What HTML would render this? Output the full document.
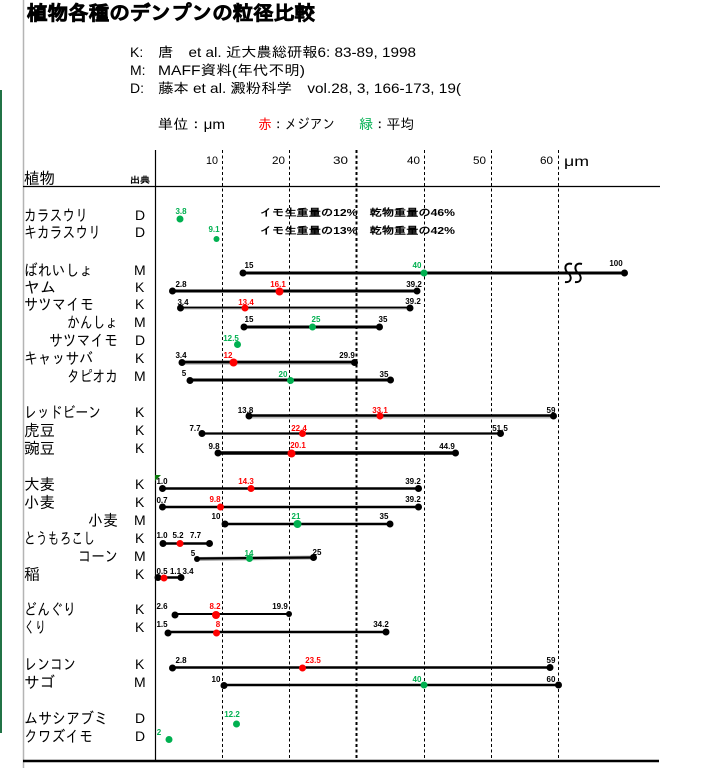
<!DOCTYPE html>
<html><head><meta charset="utf-8"><style>
html,body{margin:0;padding:0;background:#fff;}
svg{display:block;}
.jp{font-family:"Liberation Sans","IPAGothic","Noto Sans CJK JP",sans-serif;}
.lb{font-size:16px;fill:#000;}
.src{font-family:"Liberation Sans",sans-serif;font-size:14px;fill:#000;}
.v{font-family:"Liberation Sans",sans-serif;font-size:8px;font-weight:bold;text-anchor:middle;fill:#000;}
.r{fill:#ff0000;}
.g{fill:#00b050;}
.tick{font-family:"Liberation Sans",sans-serif;font-size:11px;fill:#000;}
</style></head><body>
<svg width="703" height="768" viewBox="0 0 703 768" xmlns="http://www.w3.org/2000/svg">
<rect width="703" height="768" fill="#fff"/>
<!-- left borders -->
<line x1="23.5" y1="0" x2="23.5" y2="768" stroke="#b4b4b4" stroke-width="1.5"/>
<rect x="0" y="90" width="2" height="643" fill="#217346"/>

<!-- title -->
<text class="jp" x="27" y="20" font-size="20" font-weight="bold" stroke="#000" stroke-width="0.7" textLength="288" lengthAdjust="spacingAndGlyphs">植物各種のデンプンの粒径比較</text>

<!-- references -->
<text class="jp" x="130" y="57" font-size="14">K:</text>
<text class="jp" x="158" y="57" font-size="14" textLength="258" lengthAdjust="spacingAndGlyphs">唐　et al. 近大農総研報6: 83-89, 1998</text>
<text class="jp" x="130" y="75" font-size="14">M:</text>
<text class="jp" x="158" y="75" font-size="14" textLength="147" lengthAdjust="spacingAndGlyphs">MAFF資料(年代不明)</text>
<text class="jp" x="130" y="93" font-size="14">D:</text>
<text class="jp" x="158" y="93" font-size="14" textLength="303" lengthAdjust="spacingAndGlyphs">藤本 et al. 澱粉科学　vol.28, 3, 166-173, 19(</text>

<text class="jp" x="158" y="129" font-size="14" textLength="67" lengthAdjust="spacingAndGlyphs">単位：μm</text>
<text class="jp" x="258" y="129" font-size="14" fill="#ff0000">赤</text>
<text class="jp" x="272" y="129" font-size="14" textLength="63" lengthAdjust="spacingAndGlyphs">：メジアン</text>
<text class="jp" x="359" y="129" font-size="14" fill="#00b050">緑</text>
<text class="jp" x="373" y="129" font-size="14" textLength="41" lengthAdjust="spacingAndGlyphs">：平均</text>

<!-- axis tick labels -->
<text class="tick" x="206" y="164" textLength="12" lengthAdjust="spacingAndGlyphs">10</text>
<text class="tick" x="272" y="164" textLength="13" lengthAdjust="spacingAndGlyphs">20</text>
<text class="tick" x="333" y="164" textLength="15" lengthAdjust="spacingAndGlyphs">30</text>
<text class="tick" x="407" y="164" textLength="13" lengthAdjust="spacingAndGlyphs">40</text>
<text class="tick" x="473" y="164" textLength="13" lengthAdjust="spacingAndGlyphs">50</text>
<text class="tick" x="540" y="164" textLength="13" lengthAdjust="spacingAndGlyphs">60</text>
<text class="jp" x="564" y="166" font-size="14" textLength="25" lengthAdjust="spacingAndGlyphs">μm</text>

<!-- header -->
<text class="jp lb" x="24" y="184" textLength="31" lengthAdjust="spacingAndGlyphs">植物</text>
<text class="jp" x="130" y="183" font-size="9" font-weight="bold" textLength="20" lengthAdjust="spacingAndGlyphs">出典</text>
<line x1="23" y1="186.5" x2="660" y2="186.5" stroke="#000" stroke-width="1.2"/>

<!-- grid -->
<g stroke="#000" stroke-width="1" stroke-dasharray="3,2.5">
<line x1="222.5" y1="150" x2="222.5" y2="761"/>
<line x1="289.5" y1="150" x2="289.5" y2="761"/>
<line x1="356.5" y1="150" x2="356.5" y2="761" stroke-width="2"/>
<line x1="424.5" y1="150" x2="424.5" y2="761"/>
<line x1="491.5" y1="150" x2="491.5" y2="761"/>
<line x1="558.5" y1="150" x2="558.5" y2="761"/>
</g>
<line x1="155.5" y1="150" x2="155.5" y2="761" stroke="#000" stroke-width="1.2"/>
<line x1="23" y1="761" x2="659" y2="761" stroke="#000" stroke-width="2.5"/>

<!-- row labels -->
<g class="jp lb">
<text x="24" y="221" textLength="64" lengthAdjust="spacingAndGlyphs">カラスウリ</text>
<text x="24" y="238" textLength="77" lengthAdjust="spacingAndGlyphs">キカラスウリ</text>
<text x="24" y="276" textLength="69" lengthAdjust="spacingAndGlyphs">ばれいしょ</text>
<text x="24" y="293" textLength="32" lengthAdjust="spacingAndGlyphs">ヤム</text>
<text x="24" y="310" textLength="70" lengthAdjust="spacingAndGlyphs">サツマイモ</text>
<text x="67" y="328" textLength="51" lengthAdjust="spacingAndGlyphs">かんしょ</text>
<text x="49" y="346" textLength="69" lengthAdjust="spacingAndGlyphs">サツマイモ</text>
<text x="24" y="364" textLength="69" lengthAdjust="spacingAndGlyphs">キャッサバ</text>
<text x="67" y="382" textLength="51" lengthAdjust="spacingAndGlyphs">タピオカ</text>
<text x="24" y="418" textLength="77" lengthAdjust="spacingAndGlyphs">レッドビーン</text>
<text x="24" y="436" textLength="31" lengthAdjust="spacingAndGlyphs">虎豆</text>
<text x="24" y="454" textLength="31" lengthAdjust="spacingAndGlyphs">豌豆</text>
<text x="24" y="490" textLength="31" lengthAdjust="spacingAndGlyphs">大麦</text>
<text x="24" y="508" textLength="31" lengthAdjust="spacingAndGlyphs">小麦</text>
<text x="88" y="526" textLength="30" lengthAdjust="spacingAndGlyphs">小麦</text>
<text x="24" y="544" textLength="71" lengthAdjust="spacingAndGlyphs">とうもろこし</text>
<text x="78" y="562" textLength="40" lengthAdjust="spacingAndGlyphs">コーン</text>
<text x="24" y="580" textLength="16" lengthAdjust="spacingAndGlyphs">稲</text>
<text x="24" y="615" textLength="52" lengthAdjust="spacingAndGlyphs">どんぐり</text>
<text x="24" y="633" textLength="22" lengthAdjust="spacingAndGlyphs">くり</text>
<text x="24" y="670" textLength="52" lengthAdjust="spacingAndGlyphs">レンコン</text>
<text x="24" y="688" textLength="31" lengthAdjust="spacingAndGlyphs">サゴ</text>
<text x="24" y="724" textLength="84" lengthAdjust="spacingAndGlyphs">ムサシアブミ</text>
<text x="24" y="742" textLength="69" lengthAdjust="spacingAndGlyphs">クワズイモ</text>
</g>
<!-- sources -->
<g class="src">
<text x="135" y="220">D</text>
<text x="135" y="237">D</text>
<text x="134" y="275">M</text>
<text x="135" y="292">K</text>
<text x="135" y="309">K</text>
<text x="134" y="327">M</text>
<text x="135" y="345">D</text>
<text x="135" y="363">K</text>
<text x="134" y="381">M</text>
<text x="135" y="417">K</text>
<text x="135" y="435">K</text>
<text x="135" y="453">K</text>
<text x="135" y="489">K</text>
<text x="135" y="507">K</text>
<text x="134" y="525">M</text>
<text x="135" y="543">K</text>
<text x="134" y="561">M</text>
<text x="135" y="579">K</text>
<text x="135" y="614">K</text>
<text x="135" y="632">K</text>
<text x="135" y="669">K</text>
<text x="134" y="687">M</text>
<text x="135" y="723">D</text>
<text x="135" y="741">D</text>
</g>

<!-- annotations -->
<text class="jp" x="260" y="216" font-size="10" font-weight="bold" textLength="195" lengthAdjust="spacingAndGlyphs">イモ生重量の12%　乾物重量の46%</text>
<text class="jp" x="260" y="234" font-size="10" font-weight="bold" textLength="195" lengthAdjust="spacingAndGlyphs">イモ生重量の13%　乾物重量の42%</text>

<!-- data lines -->
<g stroke="#000" fill="none">
<line x1="243" y1="273" x2="624" y2="273" stroke-width="3"/>
<line x1="172" y1="291" x2="417" y2="291" stroke-width="3"/>
<line x1="180" y1="308" x2="410" y2="308" stroke="#bbb" stroke-width="3"/>
<line x1="180" y1="307.5" x2="410" y2="307.5" stroke-width="1.8"/>
<line x1="244" y1="327" x2="379" y2="327" stroke-width="3"/>
<line x1="182" y1="362.5" x2="354" y2="362.5" stroke="#999" stroke-width="4"/>
<line x1="182" y1="362" x2="354" y2="362" stroke-width="2.5"/>
<line x1="190" y1="380" x2="391" y2="380" stroke-width="3"/>
<line x1="249" y1="416.5" x2="553" y2="416.5" stroke="#bbb" stroke-width="4"/>
<line x1="249" y1="415.5" x2="553" y2="415.5" stroke-width="2.5"/>
<line x1="202" y1="433.5" x2="501" y2="433.5" stroke-width="2.2"/>
<line x1="218" y1="453" x2="455" y2="453" stroke-width="3.5"/>
<line x1="162" y1="488.5" x2="418" y2="488.5" stroke-width="2.5"/>
<line x1="162" y1="507" x2="418" y2="507" stroke-width="2.5"/>
<line x1="225" y1="524" x2="390" y2="524" stroke-width="2.5"/>
<line x1="163" y1="543.5" x2="209" y2="543.5" stroke-width="2.5"/>
<line x1="197" y1="559" x2="314" y2="557.5" stroke="#aaa" stroke-width="4"/>
<line x1="197" y1="558.5" x2="314" y2="557.5" stroke-width="2.2"/>
<line x1="158" y1="577.5" x2="181" y2="577.5" stroke-width="2.5"/>
<line x1="175" y1="614" x2="289" y2="614" stroke-width="2"/>
<line x1="168" y1="632" x2="386" y2="632" stroke-width="2.5"/>
<line x1="172" y1="667.5" x2="550" y2="667.5" stroke-width="2.5"/>
<line x1="224" y1="685" x2="558" y2="685" stroke-width="2.5"/>
<!-- break mark -->
<path d="M572,264 C564,262 564,270 568,273 C572,276 572,283 565,282" stroke-width="2"/>
<path d="M582,264 C574,262 574,270 578,273 C582,276 582,283 575,282" stroke-width="2"/>
</g>

<!-- endpoint dots -->
<g fill="#000">
<circle cx="243" cy="273" r="3.5"/><circle cx="624.5" cy="273" r="3.5"/>
<circle cx="172.5" cy="291" r="3.5"/><circle cx="417" cy="291" r="3.5"/>
<circle cx="180.5" cy="308" r="3.5"/><circle cx="410" cy="308" r="3.5"/>
<circle cx="244" cy="327" r="3.5"/><circle cx="379.5" cy="327" r="3.5"/>
<circle cx="182" cy="362.5" r="3.5"/><circle cx="354.5" cy="362.5" r="3.5"/>
<circle cx="190" cy="380.5" r="3.5"/><circle cx="390.5" cy="380" r="3.5"/>
<circle cx="249" cy="416" r="3.5"/><circle cx="553.5" cy="416" r="3.5"/>
<circle cx="202" cy="433.5" r="3.5"/><circle cx="500.5" cy="433.5" r="3.5"/>
<circle cx="218" cy="453" r="3.5"/><circle cx="455.5" cy="453" r="3.5"/>
<circle cx="162.5" cy="488.5" r="3.5"/><circle cx="418.5" cy="488.5" r="3.5"/>
<circle cx="162.5" cy="507" r="3.5"/><circle cx="418.5" cy="507" r="3.5"/>
<circle cx="225" cy="524" r="3.5"/><circle cx="390" cy="524" r="3.5"/>
<circle cx="163" cy="543.5" r="3.5"/><circle cx="209.5" cy="543.5" r="3.5"/>
<circle cx="197" cy="559" r="3"/><circle cx="313.5" cy="557.5" r="3.5"/>
<circle cx="158" cy="577.5" r="3.5"/><circle cx="181" cy="577.5" r="3.5"/>
<circle cx="175" cy="615" r="3.5"/><circle cx="289" cy="614" r="3"/>
<circle cx="168" cy="633" r="3.5"/><circle cx="386" cy="632" r="3.5"/>
<circle cx="172.5" cy="668" r="3.5"/><circle cx="550" cy="667.5" r="3.5"/>
<circle cx="224" cy="685.5" r="3.5"/><circle cx="558.5" cy="685" r="3.5"/>
</g>
<!-- red medians -->
<g fill="#ff0000">
<circle cx="279.5" cy="291.5" r="4"/>
<circle cx="245" cy="308" r="3.5"/>
<circle cx="233.5" cy="362.5" r="4"/>
<circle cx="380" cy="416" r="3.5"/>
<circle cx="302.5" cy="433.5" r="3.5"/>
<circle cx="291.5" cy="453.5" r="4"/>
<circle cx="251" cy="488.5" r="3.5"/>
<circle cx="220.5" cy="507" r="3.5"/>
<circle cx="180" cy="543.5" r="3.5"/>
<circle cx="164" cy="578" r="3.5"/>
<circle cx="216" cy="615" r="4"/>
<circle cx="216.5" cy="633" r="3.5"/>
<circle cx="302.5" cy="668" r="3.5"/>
</g>
<!-- green means -->
<g fill="#00b050">
<circle cx="180" cy="219" r="3.5"/>
<circle cx="216.5" cy="239" r="3"/>
<circle cx="424" cy="273" r="3.5"/>
<circle cx="312.5" cy="327" r="3.5"/>
<circle cx="237.5" cy="344.5" r="3.5"/>
<circle cx="290.5" cy="380.5" r="3.5"/>
<circle cx="297.5" cy="524" r="4"/>
<circle cx="249.5" cy="558.5" r="3.5"/>
<circle cx="424" cy="685" r="3.5"/>
<circle cx="236.5" cy="724" r="3.5"/>
<circle cx="169" cy="739.5" r="3.5"/>
</g>
<polygon points="155,475 161,475 155,481" fill="#0a7a0a"/>

<!-- value labels -->
<g class="v">
<text class="g" x="181" y="214">3.8</text>
<text class="g" x="214" y="232">9.1</text>
<text x="249" y="268">15</text><text class="g" x="417" y="268">40</text><text x="616" y="266">100</text>
<text x="181" y="287">2.8</text><text class="r" x="278" y="287">16.1</text><text x="414" y="287">39.2</text>
<text x="183" y="305">3.4</text><text class="r" x="246" y="305">13.4</text><text x="413" y="304">39.2</text>
<text x="249" y="322">15</text><text class="g" x="316" y="322">25</text><text x="383" y="322">35</text>
<text class="g" x="231" y="341">12.5</text>
<text x="181" y="358">3.4</text><text class="r" x="228" y="358">12</text><text x="347" y="358">29.9</text>
<text x="184" y="376">5</text><text class="g" x="283" y="377">20</text><text x="384" y="377">35</text>
<text x="245.5" y="413">13.8</text><text class="r" x="380" y="413">33.1</text><text x="551" y="413">59</text>
<text x="195" y="431">7.7</text><text class="r" x="299" y="431">22.4</text><text x="500" y="431">51.5</text>
<text x="214" y="449">9.8</text><text class="r" x="298" y="448">20.1</text><text x="447" y="449">44.9</text>
<text x="162" y="484">1.0</text><text class="r" x="246" y="484">14.3</text><text x="413" y="484">39.2</text>
<text x="162" y="503">0.7</text><text class="r" x="215" y="502">9.8</text><text x="413" y="502">39.2</text>
<text x="216" y="519">10</text><text class="g" x="296" y="519">21</text><text x="384" y="519">35</text>
<text x="162" y="538">1.0</text><text x="178" y="538">5.2</text><text x="195.5" y="538">7.7</text>
<text x="193" y="556">5</text><text class="g" x="249" y="556">14</text><text x="317" y="555">25</text>
<text x="162" y="574">0.5</text><text x="175.5" y="574">1.1</text><text x="188" y="574">3.4</text>
<text x="162" y="609">2.6</text><text class="r" x="215" y="609">8.2</text><text x="280" y="609">19.9</text>
<text x="162" y="627">1.5</text><text class="r" x="218" y="627">8</text><text x="381" y="627">34.2</text>
<text x="181" y="663">2.8</text><text class="r" x="313" y="663">23.5</text><text x="551" y="663">59</text>
<text x="216" y="682">10</text><text class="g" x="417" y="682">40</text><text x="551" y="682">60</text>
<text class="g" x="232" y="717">12.2</text>
<text class="g" x="159" y="735">2</text>
</g>
</svg>
</body></html>
